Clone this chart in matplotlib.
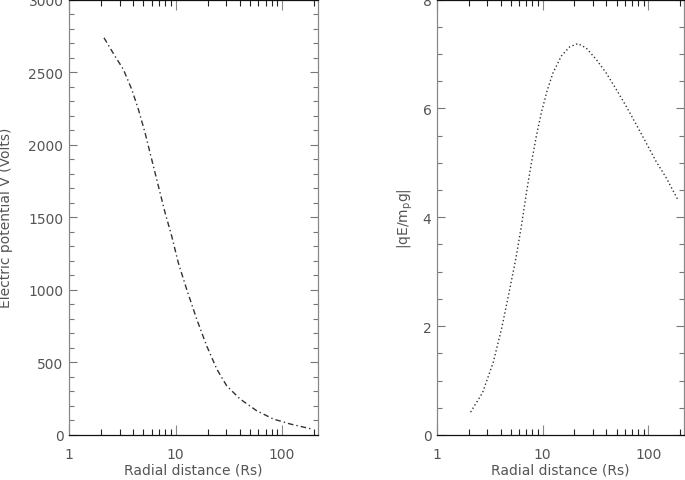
import matplotlib
matplotlib.use("Agg")
import matplotlib.pyplot as plt
from matplotlib.ticker import MultipleLocator, LogLocator, FixedFormatter, FixedLocator

# electric potential vs radial distance (left panel)
r_pot = [2.13, 2.70, 3.24, 3.88, 4.48, 5.17, 5.97, 6.90, 7.97, 9.20, 10.6, 12.7,
         15.8, 19.6, 24.4, 30.2, 40.3, 57.8, 82.8, 119, 190]
v_pot = [2736, 2610, 2518, 2381, 2243, 2083, 1899, 1715, 1532, 1371, 1188, 1005,
         798, 614, 454, 339, 248, 167, 110, 76, 41]

# |qE/m_p g| vs radial distance (right panel)
r_acc = [2.08, 2.70, 3.40, 4.07, 4.81, 5.56, 6.29, 7.02, 7.82, 8.71, 9.71, 11.0, 12.5,
         15.0, 18.0, 21.5, 25.8, 32.1, 39.9, 49.6, 61.6, 76.5, 95.1, 118, 147, 193]
acc = [0.42, 0.78, 1.33, 1.94, 2.62, 3.23, 3.84, 4.45, 5.00, 5.49, 5.92, 6.32, 6.65,
       6.96, 7.13, 7.19, 7.11, 6.90, 6.65, 6.35, 6.04, 5.71, 5.37, 5.03, 4.73, 4.30]

xticks = [1, 10, 100]
xticklabels = ["1", "10", "100"]

txt = "#555555"
plt.rcParams["font.family"] = "DejaVu Sans"
plt.rcParams["font.size"] = 10

fig = plt.figure(figsize=(6.85, 4.81), dpi=100)
ax1 = fig.add_axes([69 / 685, 45 / 481, 248.5 / 685, 435.5 / 481])
ax2 = fig.add_axes([437 / 685, 45 / 481, 246.5 / 685, 435.5 / 481])


def style(ax, ymax, ymajor, yminor):
    ax.set_xscale("log")
    ax.set_xlim(1, 215)
    ax.set_ylim(0, ymax)
    ax.xaxis.set_major_locator(FixedLocator(xticks))
    ax.xaxis.set_major_formatter(FixedFormatter(xticklabels))
    ax.xaxis.set_minor_locator(LogLocator(base=10, subs=range(2, 10)))
    ax.xaxis.set_minor_formatter(FixedFormatter([]))
    ax.yaxis.set_major_locator(MultipleLocator(ymajor))
    ax.yaxis.set_minor_locator(MultipleLocator(yminor))
    ax.tick_params(which="both", direction="in", top=True, right=True,
                   labelcolor=txt, labelsize=10)
    ax.tick_params(axis="x", which="major", length=7, width=0.8, color="#888888", pad=9)
    ax.tick_params(axis="x", which="minor", length=4, width=0.8, color="#222222")
    ax.tick_params(axis="y", which="major", length=6, width=0.8, color="#777777", pad=4)
    ax.tick_params(axis="y", which="minor", length=3.5, width=0.8, color="#777777")
    for s in ("top", "bottom"):
        ax.spines[s].set_color("#111111")
        ax.spines[s].set_linewidth(0.9)
    for s in ("left", "right"):
        ax.spines[s].set_color("#888888")
        ax.spines[s].set_linewidth(0.9)
    ax.set_xlabel("Radial distance (Rs)", color=txt, labelpad=1)


style(ax1, 3000, 500, 100)
style(ax2, 8, 2, 0.5)

ax1.plot(r_pot, v_pot, color="#333333", linewidth=1.0, dashes=(4, 2.2, 1, 2.2))
ax2.plot(r_acc, acc, color="#333333", linewidth=1.0, linestyle=(0, (1, 1.8)))

ax1.set_ylabel("Electric potential V (Volts)", color=txt)
ax1.yaxis.set_label_coords(-0.225, 0.5)
ax2.set_ylabel("|qE/m$_\\mathregular{p}$g|", color=txt)
ax2.yaxis.set_label_coords(-0.09, 0.5)

fig.savefig("out.png", dpi=100)
